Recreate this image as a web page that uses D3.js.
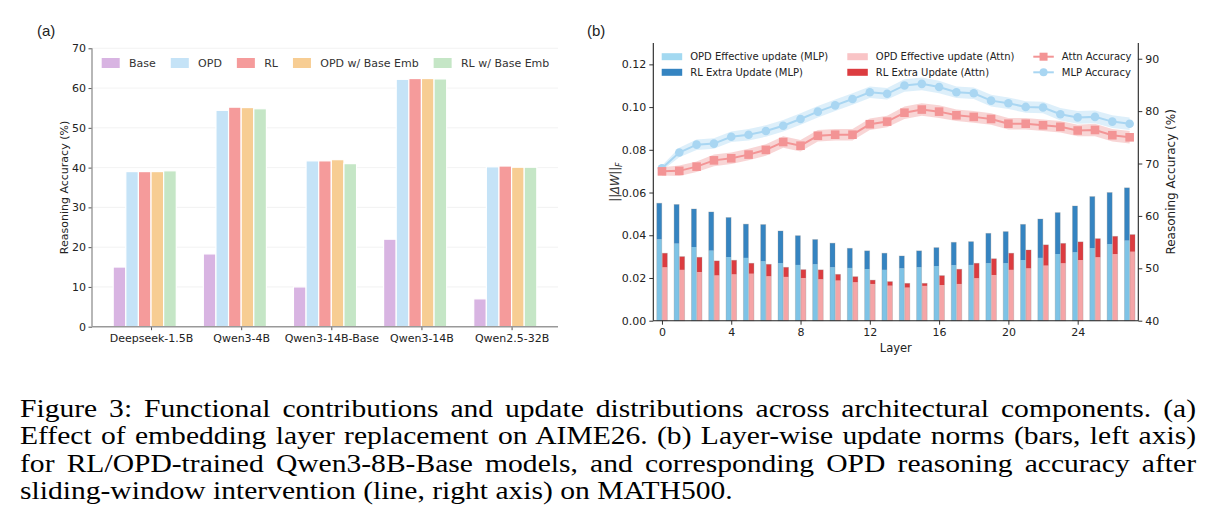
<!DOCTYPE html>
<html><head><meta charset="utf-8">
<script src="https://cdn.jsdelivr.net/npm/d3@7"></script>
<style>
body{margin:0;background:#fff}
svg{display:block;font-family:"DejaVu Sans",sans-serif}
</style>
</head><body>
<svg id="chart" width="1221" height="532"></svg>
<script>
// ---------------- Panel (a) data ----------------
const models = ["Deepseek-1.5B", "Qwen3-4B", "Qwen3-14B-Base", "Qwen3-14B", "Qwen2.5-32B"];
const seriesNamesA = ["Base", "OPD", "RL", "OPD w/ Base Emb", "RL w/ Base Emb"];
const baseAcc   = [15.0, 18.3, 10.0, 22.0, 7.0];
const opdAcc    = [39.0, 54.4, 41.7, 62.2, 40.2];
const rlAcc     = [39.0, 55.2, 41.7, 62.4, 40.4];
const opdEmbAcc = [39.0, 55.1, 42.0, 62.4, 40.1];
const rlEmbAcc  = [39.2, 54.8, 41.0, 62.3, 40.1];
const yTicksA = [0, 10, 20, 30, 40, 50, 60, 70];

// ---------------- Panel (b) data ----------------
const layers = [0,1,2,3,4,5,6,7,8,9,10,11,12,13,14,15,16,17,18,19,20,21,22,23,24,25,26,27];
const mlpOpdUpdate = [0.0381,0.0361,0.0345,0.0328,0.0298,0.0294,0.0278,0.0270,0.0261,0.0264,0.0250,0.0247,0.0242,0.0238,
                      0.0245,0.0250,0.0256,0.0260,0.0261,0.0269,0.0269,0.0284,0.0294,0.0312,0.0320,0.0340,0.0359,0.0375];
const mlpRlTotal   = [0.0550,0.0544,0.0523,0.0509,0.0483,0.0452,0.0450,0.0420,0.0398,0.0380,0.0363,0.0339,0.0327,0.0316,
                      0.0303,0.0327,0.0342,0.0367,0.0370,0.0409,0.0417,0.0451,0.0476,0.0506,0.0537,0.0581,0.0600,0.0622];
const attnOpdUpdate= [0.0250,0.0238,0.0228,0.0212,0.0217,0.0220,0.0208,0.0205,0.0200,0.0194,0.0188,0.0180,0.0172,0.0164,
                      0.0155,0.0163,0.0167,0.0172,0.0199,0.0214,0.0238,0.0245,0.0258,0.0269,0.0284,0.0297,0.0312,0.0323];
const attnRlTotal  = [0.0316,0.0300,0.0297,0.0280,0.0283,0.0269,0.0264,0.0250,0.0239,0.0238,0.0217,0.0206,0.0190,0.0183,
                      0.0175,0.0175,0.0211,0.0241,0.0269,0.0290,0.0316,0.0331,0.0355,0.0362,0.0369,0.0384,0.0395,0.0403];
const mlpAcc  = [69.1,72.1,73.6,73.8,75.1,75.5,76.2,77.2,78.5,79.9,81.1,82.3,83.6,83.3,
                 84.9,85.2,84.6,83.6,83.4,82.0,81.5,80.8,80.7,79.4,78.8,78.9,78.0,77.6];
const attnAcc = [68.5,68.6,69.4,70.6,71.0,71.7,72.6,74.1,73.4,75.3,75.5,75.5,77.5,78.0,
                 79.7,80.3,79.9,79.2,78.9,78.5,77.6,77.6,77.3,77.0,76.3,76.4,75.4,75.0];
const mlpStd  = [0.5,0.9,1.0,1.0,1.0,1.1,1.1,1.1,1.1,1.1,1.1,1.1,1.1,1.1,
                 1.2,1.2,1.2,1.1,1.1,1.1,1.1,1.1,1.1,1.2,1.2,1.2,1.2,1.2];
const attnStd = [0.8,1.0,1.0,1.1,1.1,1.1,1.1,1.1,1.1,1.1,1.1,1.1,1.1,1.1,
                 1.2,1.2,1.2,1.1,1.1,1.1,1.1,1.1,1.1,1.1,1.1,1.2,1.2,1.2];
const xTicksB = [0, 4, 8, 12, 16, 20, 24];
const yTicksB = [0.00, 0.02, 0.04, 0.06, 0.08, 0.10, 0.12];
const yTicksR = [40, 50, 60, 70, 80, 90];

const captionLines = [
  "Figure 3: Functional contributions and update distributions across architectural components. (a)",
  "Effect of embedding layer replacement on AIME26. (b) Layer-wise update norms (bars, left axis)",
  "for RL/OPD-trained Qwen3-8B-Base models, and corresponding OPD reasoning accuracy after",
  "sliding-window intervention (line, right axis) on MATH500."
];

// ---------------- styles ----------------
const colorsA = ["#d8b4e2", "#c5e3f7", "#f59b9b", "#f7cd93", "#c5e6c6"];
const C = {
  mlpLight: "#7ec3e6", mlpDark: "#3584c1",
  attnLight: "#f5a5a7", attnDark: "#dc3c40",
  mlpLine: "#a9d6f2", attnLine: "#f39495",
  mlpBand: "#cfe8f8", attnBand: "#f5c3c3"
};
const SANS = "DejaVu Sans";

const svg = d3.select("#chart");
svg.append("rect").attr("width", 1221).attr("height", 532).attr("fill", "#fff");

// =============== Panel (a) ===============
const gA = svg.append("g");
const xA = d3.scaleLinear().domain([-0.655, 4.515]).range([92, 558]);
const yA = d3.scaleLinear().domain([0, 70]).range([326.7, 48.3]);
const bw = 0.14;
const seriesA = [baseAcc, opdAcc, rlAcc, opdEmbAcc, rlEmbAcc];

gA.append("g").selectAll("line").data(yTicksA.slice(1)).join("line")
  .attr("x1", xA.range()[0]).attr("x2", xA.range()[1])
  .attr("y1", d => yA(d)).attr("y2", d => yA(d))
  .attr("stroke", "#efefef").attr("stroke-width", 0.8);

seriesA.forEach((vals, si) => {
  gA.append("g").selectAll("rect").data(vals).join("rect")
    .attr("x", (d, i) => xA(i + (si - 2.5) * bw - bw / 2))
    .attr("width", xA(bw) - xA(0))
    .attr("y", d => yA(d))
    .attr("height", d => yA(0) - yA(d))
    .attr("fill", colorsA[si])
    .attr("stroke", "#fff").attr("stroke-width", 1.2);
});

const axLA = gA.append("g").attr("transform", `translate(${xA.range()[0]},0)`)
  .call(d3.axisLeft(yA).tickValues(yTicksA).tickSize(3.5).tickPadding(2.5));
const axBA = gA.append("g").attr("transform", `translate(0,${yA(0)})`)
  .call(d3.axisBottom(xA).tickValues(models.map((m, i) => i)).tickFormat((d) => models[d]).tickSize(3.5).tickPadding(4));
[axLA, axBA].forEach(ax => {
  ax.attr("font-family", SANS);
  ax.select(".domain").remove();
  ax.selectAll(".tick line").attr("stroke", "#555");
  ax.selectAll("text").attr("font-size", 11).attr("fill", "#222");
});
gA.append("line").attr("x1", xA.range()[0]).attr("x2", xA.range()[0])
  .attr("y1", yA.range()[1]).attr("y2", yA(0)).attr("stroke", "#999").attr("stroke-width", 1.4);
gA.append("line").attr("x1", xA.range()[0]).attr("x2", xA.range()[1])
  .attr("y1", yA(0)).attr("y2", yA(0)).attr("stroke", "#999").attr("stroke-width", 1.4);

gA.append("text").attr("transform", `translate(64,${(yA(0) + yA(70)) / 2}) rotate(-90)`)
  .attr("text-anchor", "middle").attr("dy", "0.35em").attr("font-size", 11).attr("fill", "#222")
  .text("Reasoning Accuracy (%)");

const legA = gA.append("g");
legA.append("rect").attr("x", 96).attr("y", 52).attr("width", 462).attr("height", 22).attr("fill", "#fff");
let lx = 101.7;
seriesNamesA.forEach((name, i) => {
  legA.append("rect").attr("x", lx).attr("y", 58).attr("width", 18).attr("height", 10).attr("fill", colorsA[i]);
  const t = legA.append("text").attr("x", lx + 27.3).attr("y", 67).attr("font-size", 11).attr("fill", "#333").text(name);
  lx = lx + 27.3 + t.node().getComputedTextLength() + 15;
});

svg.append("text").attr("x", 37).attr("y", 36).attr("font-family", "Liberation Sans").attr("font-size", 15)
  .attr("fill", "#222").text("(a)");

// =============== Panel (b) ===============
const gB = svg.append("g");
const xB = d3.scaleLinear().domain([-0.5, 27.5]).range([653.3, 1138.3]);
const yB = d3.scaleLinear().domain([0, 0.13]).range([320.7, 43]);
const yR = d3.scaleLinear().domain([40, 93]).range([320.7, 43]);
const half = 0.29;

function stackBars(opd, total, off, cLight, cDark) {
  const g = gB.append("g");
  g.selectAll(".lt").data(layers).join("rect")
    .attr("x", l => xB(l + off)).attr("width", xB(half) - xB(0))
    .attr("y", (l, i) => yB(opd[i])).attr("height", (l, i) => yB(0) - yB(opd[i]))
    .attr("fill", cLight);
  g.selectAll(".dk").data(layers).join("rect")
    .attr("x", l => xB(l + off)).attr("width", xB(half) - xB(0))
    .attr("y", (l, i) => yB(total[i])).attr("height", (l, i) => yB(opd[i]) - yB(total[i]))
    .attr("fill", cDark);
  g.selectAll(".ol").data(layers).join("rect")
    .attr("x", l => xB(l + off)).attr("width", xB(half) - xB(0))
    .attr("y", (l, i) => yB(total[i])).attr("height", (l, i) => yB(0) - yB(total[i]))
    .attr("fill", "none").attr("stroke", "rgba(140,140,140,0.35)").attr("stroke-width", 0.8);
}
stackBars(mlpOpdUpdate, mlpRlTotal, -0.30, C.mlpLight, C.mlpDark);
stackBars(attnOpdUpdate, attnRlTotal, 0.02, C.attnLight, C.attnDark);

function accLine(vals, std, lineC, bandC, marker) {
  const g = gB.append("g");
  const area = d3.area().x((l) => xB(l)).y0((l, i) => yR(vals[i] - std[i])).y1((l, i) => yR(vals[i] + std[i]));
  g.append("path").datum(layers).attr("d", area).attr("fill", bandC).attr("opacity", 0.7);
  const line = d3.line().x(l => xB(l)).y((l, i) => yR(vals[i]));
  g.append("path").datum(layers).attr("d", line).attr("fill", "none").attr("stroke", lineC).attr("stroke-width", 2);
  if (marker === "circle") {
    g.selectAll("circle").data(layers).join("circle")
      .attr("cx", l => xB(l)).attr("cy", (l, i) => yR(vals[i])).attr("r", 4.3).attr("fill", lineC);
  } else {
    g.selectAll("rect").data(layers).join("rect")
      .attr("x", l => xB(l) - 4.3).attr("y", (l, i) => yR(vals[i]) - 4.3)
      .attr("width", 8.6).attr("height", 8.6).attr("fill", lineC);
  }
}
accLine(mlpAcc, mlpStd, C.mlpLine, C.mlpBand, "circle");
accLine(attnAcc, attnStd, C.attnLine, C.attnBand, "square");

const axLB = gB.append("g").attr("transform", `translate(${xB.range()[0]},0)`)
  .call(d3.axisLeft(yB).tickValues(yTicksB).tickFormat(d3.format(".2f")).tickSize(4).tickPadding(3));
const axRB = gB.append("g").attr("transform", `translate(${xB.range()[1]},0)`)
  .call(d3.axisRight(yR).tickValues(yTicksR).tickSize(4).tickPadding(3));
const axBB = gB.append("g").attr("transform", `translate(0,${yB(0)})`)
  .call(d3.axisBottom(xB).tickValues(xTicksB).tickSize(4).tickPadding(4));
[axLB, axRB, axBB].forEach(ax => {
  ax.attr("font-family", SANS);
  ax.select(".domain").remove();
  ax.selectAll(".tick line").attr("stroke", "#333");
  ax.selectAll("text").attr("font-size", 11).attr("fill", "#222");
});
gB.append("line").attr("x1", xB.range()[0]).attr("x2", xB.range()[0]).attr("y1", 43).attr("y2", yB(0))
  .attr("stroke", "#222").attr("stroke-width", 1.1);
gB.append("line").attr("x1", xB.range()[1]).attr("x2", xB.range()[1]).attr("y1", 43).attr("y2", yB(0))
  .attr("stroke", "#222").attr("stroke-width", 1.1);
gB.append("line").attr("x1", xB.range()[0]).attr("x2", xB.range()[1]).attr("y1", yB(0)).attr("y2", yB(0))
  .attr("stroke", "#222").attr("stroke-width", 1.1);

gB.append("text").attr("x", (xB.range()[0] + xB.range()[1]) / 2).attr("y", 352)
  .attr("text-anchor", "middle").attr("font-size", 11.5).attr("fill", "#222").text("Layer");

const yl = gB.append("text").attr("transform", `translate(615,182) rotate(-90)`)
  .attr("text-anchor", "middle").attr("dy", "0.35em").attr("font-size", 11.5).attr("fill", "#333");
yl.append("tspan").text("||");
yl.append("tspan").attr("font-style", "italic").text("ΔW");
yl.append("tspan").text("||");
yl.append("tspan").attr("font-style", "italic").attr("font-size", 8).attr("dy", "3").text("F");

gB.append("text").attr("transform", `translate(1171,${(yR(40) + yR(93)) / 2}) rotate(-90)`)
  .attr("text-anchor", "middle").attr("dy", "0.35em").attr("font-size", 12).attr("fill", "#222")
  .text("Reasoning Accuracy (%)");

const legB = gB.append("g");
const legItems = [
  {x: 661.7, y: 56.7, type: "patch", c: "#a3d9f1", label: "OPD Effective update (MLP)"},
  {x: 661.7, y: 72.3, type: "patch", c: C.mlpDark, label: "RL Extra Update (MLP)"},
  {x: 847.3, y: 56.7, type: "patch", c: "#f9c4c6", label: "OPD Effective update (Attn)"},
  {x: 847.3, y: 72.3, type: "patch", c: C.attnDark, label: "RL Extra Update (Attn)"},
  {x: 1033.3, y: 56.7, type: "square", c: C.attnLine, label: "Attn Accuracy"},
  {x: 1033.3, y: 72.3, type: "circle", c: C.mlpLine, label: "MLP Accuracy"}
];
legItems.forEach(it => {
  if (it.type === "patch") {
    legB.append("rect").attr("x", it.x).attr("y", it.y - 3.5).attr("width", 20.5).attr("height", 7).attr("fill", it.c);
  } else {
    legB.append("line").attr("x1", it.x).attr("x2", it.x + 20.5).attr("y1", it.y).attr("y2", it.y)
      .attr("stroke", it.c).attr("stroke-width", 2);
    if (it.type === "square") legB.append("rect").attr("x", it.x + 10.25 - 4).attr("y", it.y - 4).attr("width", 8).attr("height", 8).attr("fill", it.c);
    else legB.append("circle").attr("cx", it.x + 10.25).attr("cy", it.y).attr("r", 4).attr("fill", it.c);
  }
  legB.append("text").attr("x", it.x + 28.5).attr("y", it.y + 3.6).attr("font-size", 10).attr("fill", "#222").text(it.label);
});

svg.append("text").attr("x", 587).attr("y", 36).attr("font-family", "Liberation Sans").attr("font-size", 15)
  .attr("fill", "#222").text("(b)");

// =============== Caption ===============
const capX0 = 20, capX1 = 1196, lastWidth = 713, capFs = 24.6;
const capBaselines = [417, 444.4, 471.8, 499.2];
const capG = svg.append("g");
const capTexts = captionLines.map((s, i) => capG.append("text").attr("x", 0).attr("y", capBaselines[i])
  .attr("font-family", "Liberation Serif").attr("font-size", capFs).attr("fill", "#000").text(s));
// slight horizontal scale so the last line keeps the reference width
const kx = lastWidth / capTexts[3].node().getComputedTextLength();
capG.attr("transform", `translate(${capX0},0) scale(${kx},1)`);
capTexts.slice(0, 3).forEach((t, i) => {
  const w = t.node().getComputedTextLength();
  const spaces = captionLines[i].split(" ").length - 1;
  t.attr("word-spacing", ((capX1 - capX0) / kx - w) / spaces);
});
</script>
</body></html>
